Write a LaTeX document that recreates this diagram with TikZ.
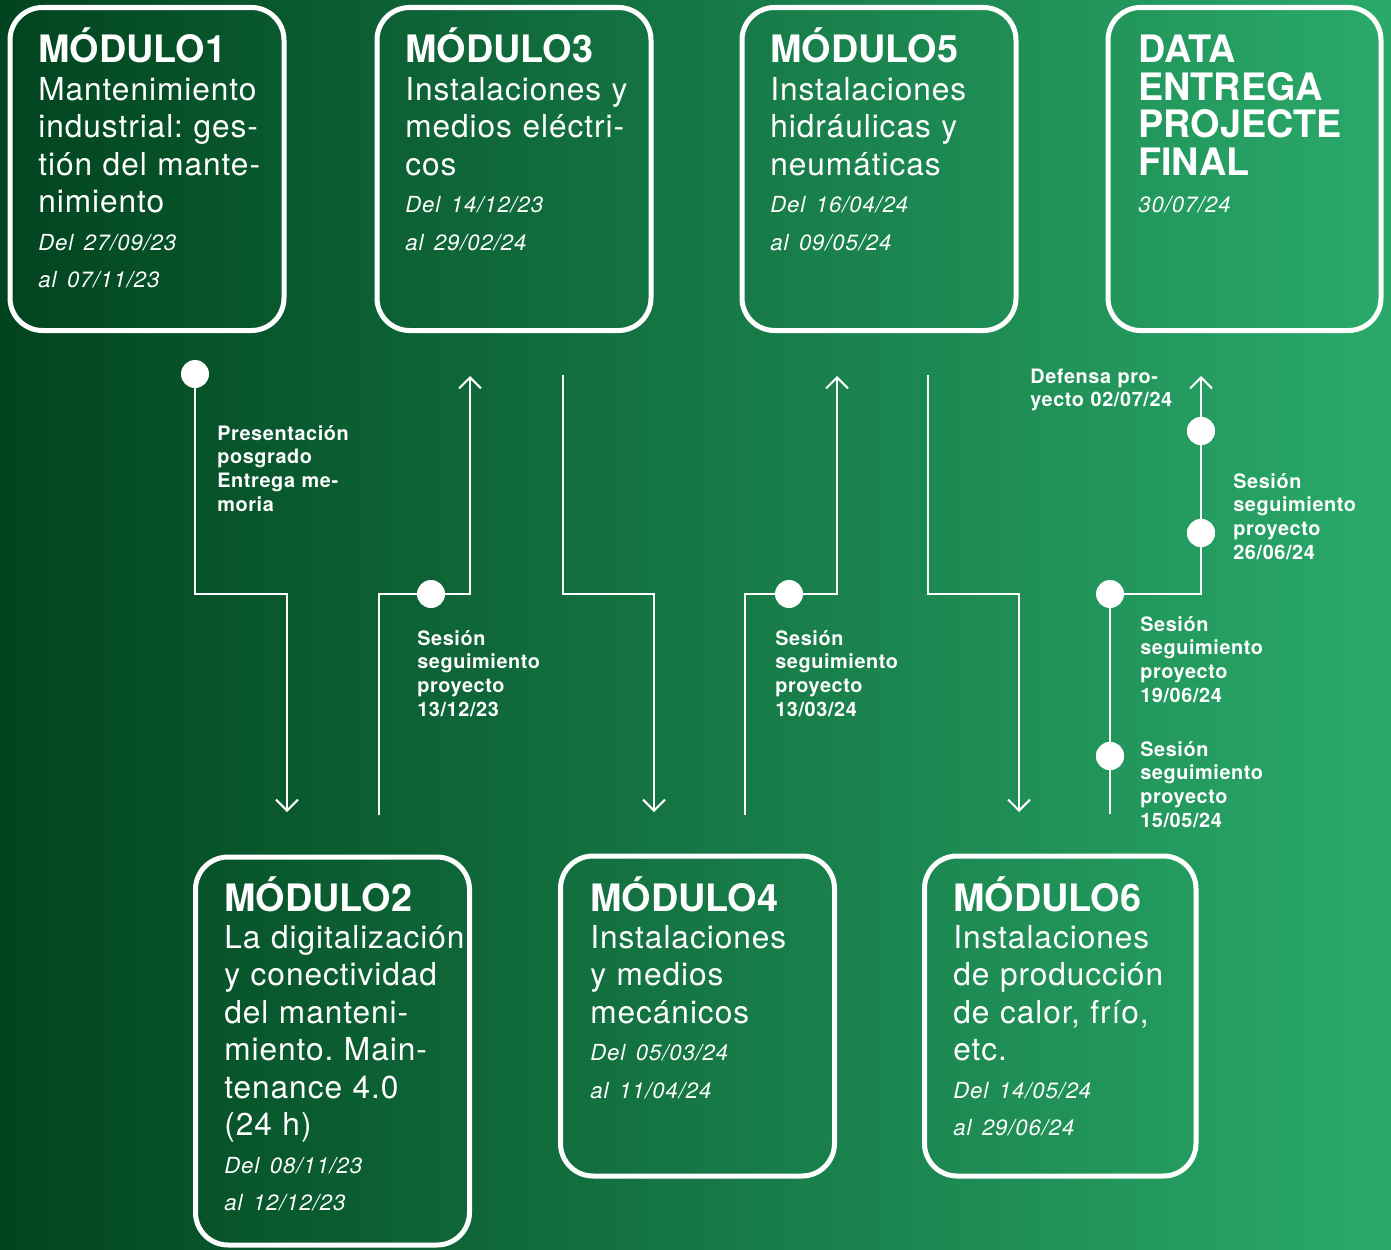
\documentclass[tikz,border=0pt]{standalone}
\usepackage{fontspec}
\setmainfont{TeX Gyre Heros}
\usetikzlibrary{arrows.meta}

\definecolor{bgleft}{RGB}{1,68,31}
\definecolor{bgmid}{RGB}{20,122,68}
\definecolor{bgright}{RGB}{42,170,106}

\newcommand{\modtitle}[1]{{\fontsize{21.5}{21.3}\selectfont\bfseries\addfontfeature{LetterSpace=0}#1}}
\newcommand{\moddate}[1]{{\fontsize{12.6}{21.3}\selectfont\itshape\addfontfeature{LetterSpace=4}#1}}

\begin{document}
\begin{tikzpicture}[x=0.2mm,y=-0.2mm,>={Straight Barb[length=2.2mm,width=4.4mm]},
  modbox/.style={draw=white,line width=1mm,rounded corners=6.5mm},
  modtext/.style={text=white,anchor=base west,inner sep=0,text width=5.2cm,
    font=\fontsize{18}{21.3}\selectfont\addfontfeature{LetterSpace=3}\frenchspacing},
  note/.style={text=white,anchor=base west,inner sep=0,text width=3.2cm,
    font=\fontsize{11.3}{13.6}\selectfont\bfseries\addfontfeature{LetterSpace=3}},
  flow/.style={draw=white,line width=0.4mm},
  dot/.style={circle,fill=white,inner sep=0,minimum size=5.6mm}]
\useasboundingbox (0,0) rectangle (1391,1250);
\shade[left color=bgleft,middle color=bgmid,right color=bgright]
	(0,0) rectangle (1391,1250);

% module frames, top row then bottom row
\draw[modbox] (10,7.5) rectangle (284,330.5);
\draw[modbox] (377,7.5) rectangle (651,330.5);
\draw[modbox] (742,7.5) rectangle (1016,330.5);
\draw[modbox] (1108,7.5) rectangle (1381,330.5);
\draw[modbox] (195.5,857) rectangle (469.5,1245);
\draw[modbox] (560.5,856) rectangle (834.5,1176);
\draw[modbox] (924.5,856) rectangle (1196,1176);

% timeline
\node[dot] (d1) at (195,374) {};
\node[dot] (d2) at (431,594) {};
\node[dot] (d4) at (789,594) {};
\node[dot] (d6a) at (1110,594) {};
\node[dot] (d6b) at (1201,533) {};
\node[dot] (d6c) at (1201,431) {};
\node[dot] (d6d) at (1110,756) {};
\coordinate (k1) at (287,594);
\coordinate (a1) at (287,812);
\coordinate (s2) at (379,815);
\coordinate (a2) at (470,376);
\coordinate (s3) at (563,375);
\coordinate (k3) at (654,594);
\coordinate (a3) at (654,812);
\coordinate (s4) at (745,815);
\coordinate (a4) at (837,376);
\coordinate (s5) at (928,375);
\coordinate (k5) at (1019,594);
\coordinate (a5) at (1019,812);
\coordinate (s6) at (1110,814);
\coordinate (a6) at (1201,376);
\draw[flow,->] (d1) |- (k1) -- (a1);
\draw[flow,->] (s2) |- (d2) -| (a2);
\draw[flow,->] (s3) |- (k3) -- (a3);
\draw[flow,->] (s4) |- (d4) -| (a4);
\draw[flow,->] (s5) |- (k5) -- (a5);
\draw[flow,->] (s6) -- (d6a) -| (a6);
\node[dot] at (d6d) {};
\node[dot] at (d6b) {};
\node[dot] at (d6c) {};

% module texts
\node[modtext] (mod1) at (38,63) {\modtitle{MÓDULO1}\\
	Mantenimiento\\ industrial: ges-\\ tión del mante-\\ nimiento\\
	\moddate{Del 27/09/23}\\ \moddate{al 07/11/23}};
\node[modtext] (mod3) at (405,63) {\modtitle{MÓDULO3}\\
	Instalaciones y\\ medios eléctri-\\ cos\\
	\moddate{Del 14/12/23}\\ \moddate{al 29/02/24}};
\node[modtext] (mod5) at (770,63) {\modtitle{MÓDULO5}\\
	Instalaciones\\ hidráulicas y\\ neumáticas\\
	\moddate{Del 16/04/24}\\ \moddate{al 09/05/24}};
\node[modtext] (final) at (1138,63) {\modtitle{DATA}\\ \modtitle{ENTREGA}\\
	\modtitle{PROJECTE}\\ \modtitle{FINAL}\\ \moddate{30/07/24}};
\node[modtext] (mod2) at (224,911) {\modtitle{MÓDULO2}\\
	La digitalización\\ y conectividad\\ del manteni-\\ miento. Main-\\
	tenance 4.0\\ (24 h)\\
	\moddate{Del 08/11/23}\\ \moddate{al 12/12/23}};
\node[modtext] (mod4) at (590,911) {\modtitle{MÓDULO4}\\
	Instalaciones\\ y medios\\ mecánicos\\
	\moddate{Del 05/03/24}\\ \moddate{al 11/04/24}};
\node[modtext] (mod6) at (953,911) {\modtitle{MÓDULO6}\\
	Instalaciones\\ de producción\\ de calor, frío,\\ etc.\\
	\moddate{Del 14/05/24}\\ \moddate{al 29/06/24}};

% milestone notes
\node[note] (n1) at (217,440) {Presentación\\ posgrado\\ Entrega me-\\ moria};
\node[note] (n2) at (417,645) {Sesión\\ seguimiento\\ proyecto\\ 13/12/23};
\node[note] (n4) at (775,645) {Sesión\\ seguimiento\\ proyecto\\ 13/03/24};
\node[note] (n6a) at (1030,383) {Defensa pro-\\ yecto 02/07/24};
\node[note] (n6b) at (1233,488) {Sesión\\ seguimiento\\ proyecto\\ 26/06/24};
\node[note] (n6c) at (1140,631) {Sesión\\ seguimiento\\ proyecto\\ 19/06/24};
\node[note] (n6d) at (1140,756) {Sesión\\ seguimiento\\ proyecto\\ 15/05/24};

\end{tikzpicture}
\end{document}
